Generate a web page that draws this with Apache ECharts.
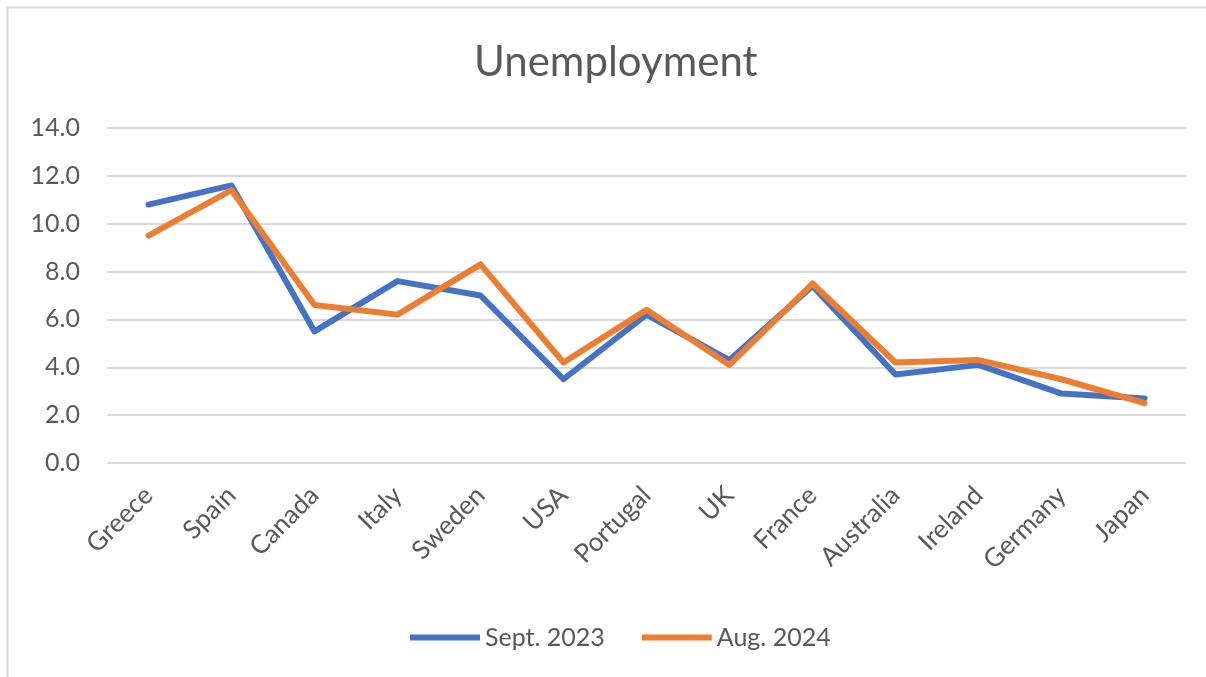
<!DOCTYPE html>
<html>
<head>
<meta charset="utf-8">
<script src="https://cdn.jsdelivr.net/npm/echarts@6/dist/echarts.min.js"></script>
<style>
  html, body { margin: 0; padding: 0; background: #fff; }
  #main { width: 1206px; height: 677px; }
</style>
</head>
<body>
<div id="main"></div>
<script>
// values
var countries = ["Greece", "Spain", "Canada", "Italy", "Sweden", "USA", "Portugal", "UK", "France", "Australia", "Ireland", "Germany", "Japan"];
var sept2023 = [10.8, 11.6, 5.5, 7.6, 7.0, 3.5, 6.2, 4.3, 7.4, 3.7, 4.1, 2.9, 2.7];
var aug2024 = [9.5, 11.4, 6.6, 6.2, 8.3, 4.2, 6.4, 4.1, 7.5, 4.2, 4.3, 3.5, 2.5];
var seriesNames = ["Sept. 2023", "Aug. 2024"];

var textColor = "#595959";
var font = "Lato, 'Liberation Sans', sans-serif";

var myChart = echarts.init(document.getElementById("main"));
var option = {
  backgroundColor: "#fff",
  textStyle: { fontFamily: font },
  graphic: [
    {
      type: "rect",
      shape: { x: 7.5, y: 7.5, width: 1300, height: 800 },
      style: { fill: "none", stroke: "#d9d9d9", lineWidth: 2 },
      silent: true
    }
  ],
  title: {
    text: "Unemployment",
    left: 469,
    top: 36,
    textStyle: { color: textColor, fontSize: 42, fontWeight: "normal", fontFamily: font }
  },
  legend: {
    left: 405,
    top: 620,
    icon: "rect",
    itemWidth: 70,
    itemHeight: 6,
    itemGap: 37,
    textStyle: { color: textColor, fontSize: 25, fontFamily: font },
    data: seriesNames
  },
  grid: { left: 107, right: 20, top: 128, bottom: 214, containLabel: false },
  xAxis: {
    type: "category",
    data: countries,
    boundaryGap: true,
    axisLine: { show: false },
    axisTick: { show: false },
    axisLabel: { rotate: 45, margin: 28, color: textColor, fontSize: 26, fontFamily: font }
  },
  yAxis: {
    type: "value",
    min: 0,
    max: 14,
    interval: 2,
    axisLine: { show: false },
    axisTick: { show: false },
    splitLine: { lineStyle: { color: "#d9d9d9", width: 2 } },
    axisLabel: {
      margin: 27,
      color: textColor,
      fontSize: 25,
      fontFamily: font,
      formatter: function (v) { return v.toFixed(1); }
    }
  },
  series: [
    {
      name: seriesNames[0],
      type: "line",
      data: sept2023,
      showSymbol: false,
      color: "#4472c4",
      lineStyle: { width: 6, color: "#4472c4", cap: "round", join: "round" }
    },
    {
      name: seriesNames[1],
      type: "line",
      data: aug2024,
      showSymbol: false,
      color: "#ed7d31",
      lineStyle: { width: 6, color: "#ed7d31", cap: "round", join: "round" }
    }
  ]
};
myChart.setOption(option);
</script>
</body>
</html>
